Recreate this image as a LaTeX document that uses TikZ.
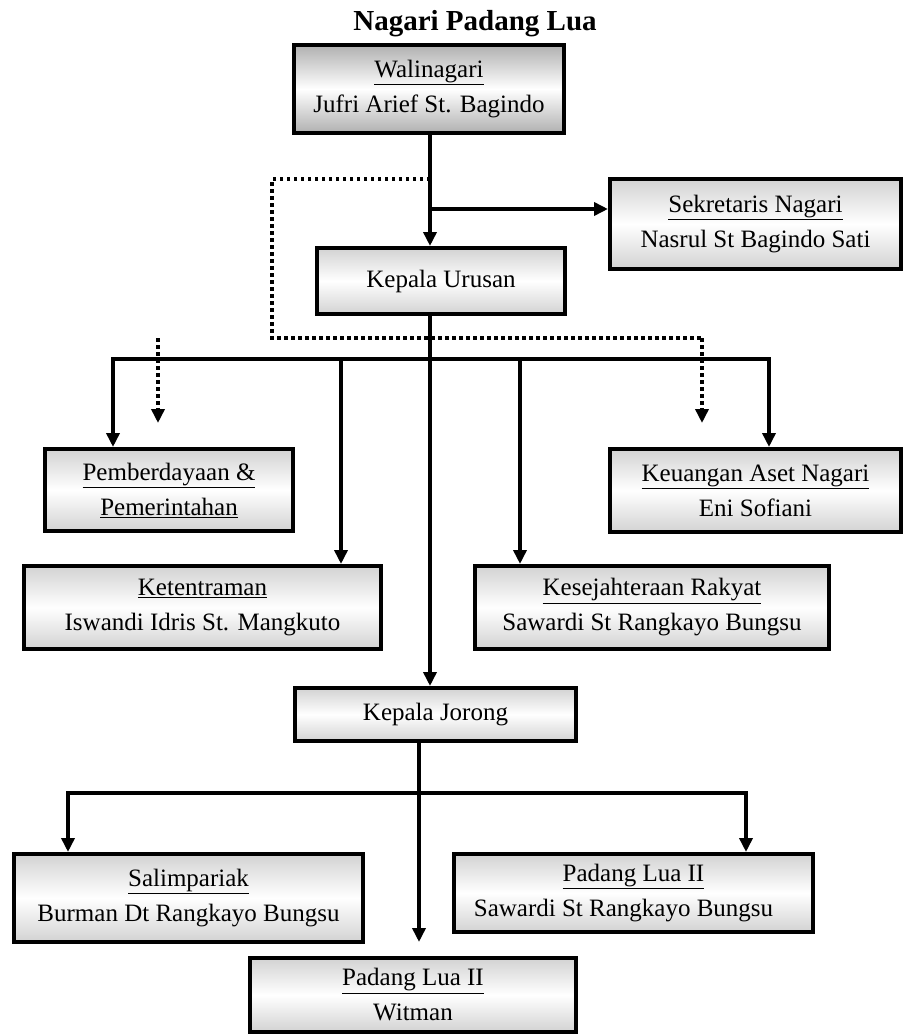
\documentclass[tikz,border=0pt]{standalone}
\usepackage{fontspec}
\setmainfont{Liberation Serif}
\usetikzlibrary{arrows.meta}
\begin{document}
\begin{tikzpicture}[x=1pt,y=-1pt,
  box/.style={draw=black, line width=4pt, rectangle, align=center, inner sep=0pt,
    top color=gray!35, bottom color=gray!35, middle color=white,
    font=\fontsize{25}{30}\selectfont},
  headbox/.style={draw=black, line width=4pt, rectangle, align=center, inner sep=0pt,
    top color=gray!62, bottom color=gray!62, middle color=white,
    font=\fontsize{25}{30}\selectfont},
  link/.style={line width=3.5pt, -{Triangle[width=13pt,length=14pt]}},
  plain/.style={line width=3.5pt},
  dots/.style={line width=3.5pt, dash pattern=on 3.5pt off 3.5pt},
]
\useasboundingbox (0,0) rectangle (904,1036);

% title
\node[font=\bfseries\fontsize{29}{32}\selectfont] (title) at (475,24) {Nagari Padang Lua};

% boxes
\node[headbox, minimum width=270pt, minimum height=88pt] (wali) at (429,89)
  {\underline{Walinagari}\\[5pt]Jufri Arief St. Bagindo};
\node[box, minimum width=291pt, minimum height=90pt] (sek) at (755.5,224)
  {\underline{Sekretaris Nagari}\\[5pt]Nasrul St Bagindo Sati};
\node[box, minimum width=248pt, minimum height=66pt] (urusan) at (441,281)
  {Kepala Urusan};
\node[box, minimum width=248pt, minimum height=82pt] (pember) at (169,490)
  {\underline{Pemberdayaan \&}\\[5pt]\underline{Pemerintahan}};
\node[box, minimum width=291pt, minimum height=83pt] (keu) at (755.5,490.5)
  {\underline{Keuangan Aset Nagari}\\[5pt]Eni Sofiani};
\node[box, minimum width=357pt, minimum height=83pt] (keten) at (202.5,607.5)
  {\underline{Ketentraman}\\[5pt]Iswandi Idris St. Mangkuto};
\node[box, minimum width=354pt, minimum height=83pt] (kesej) at (652,607.5)
  {\underline{Kesejahteraan Rakyat}\\[5pt]Sawardi St Rangkayo Bungsu};
\node[box, minimum width=281pt, minimum height=53pt] (jorong) at (435.5,714.5)
  {Kepala Jorong};
\node[box, minimum width=349pt, minimum height=88pt] (salim) at (188.5,898)
  {\underline{Salimpariak}\\[5pt]Burman Dt Rangkayo Bungsu};
\node[box, minimum width=359pt, minimum height=78pt] (padang) at (633.5,893)
  {\underline{Padang Lua II}\\[5pt]Sawardi St Rangkayo Bungsu\hspace*{20pt}};
\node[box, minimum width=326pt, minimum height=74pt] (witman) at (413,995)
  {\underline{Padang Lua II}\\[5pt]Witman};

% reference points of the connector network
\coordinate (spine) at (430,0);
\coordinate (sb) at (430,209);
\coordinate (d0) at (430,179);
\coordinate (dc1) at (272,179);
\coordinate (dc2) at (272,338);
\coordinate (dr) at (702,338);
\coordinate (dl) at (158,338);
\coordinate (drEnd) at (702,423);
\coordinate (dlEnd) at (158,423);
\coordinate (busL) at (113,359);
\coordinate (busR) at (769,359);
\coordinate (k1) at (341,359);
\coordinate (k2) at (520,359);
\coordinate (jx) at (419,793);
\coordinate (bL) at (68,793);
\coordinate (bR) at (746,793);

% Walinagari to Kepala Urusan and Sekretaris
\draw[link] (wali.south -| spine) -- (urusan.north -| spine);
\draw[link] (sb) -- (sb -| sek.west);

% dotted coordination line
\draw[dots] (d0) -- (dc1) -- (dc2) -- (dr);
\draw[dots, -{Triangle[width=13pt,length=14pt]}] (dr) -- (drEnd);
\draw[dots, -{Triangle[width=13pt,length=14pt]}] (dl) -- (dlEnd);

% Kepala Urusan branches
\draw[link] (urusan.south -| spine) -- (jorong.north -| spine);
\draw[link] (busL -| spine) -| (busL |- pember.north);
\draw[link] (busR -| spine) -| (busR |- keu.north);
\draw[link] (k1) -- (k1 |- keten.north);
\draw[link] (k2) -- (k2 |- kesej.north);

% Kepala Jorong branches
\draw[link, shorten >=14pt] (jx |- jorong.south) -- (jx |- witman.north);
\draw[link] (jx) -| (bL |- salim.north);
\draw[link] (jx) -| (bR |- padang.north);
\end{tikzpicture}
\end{document}
